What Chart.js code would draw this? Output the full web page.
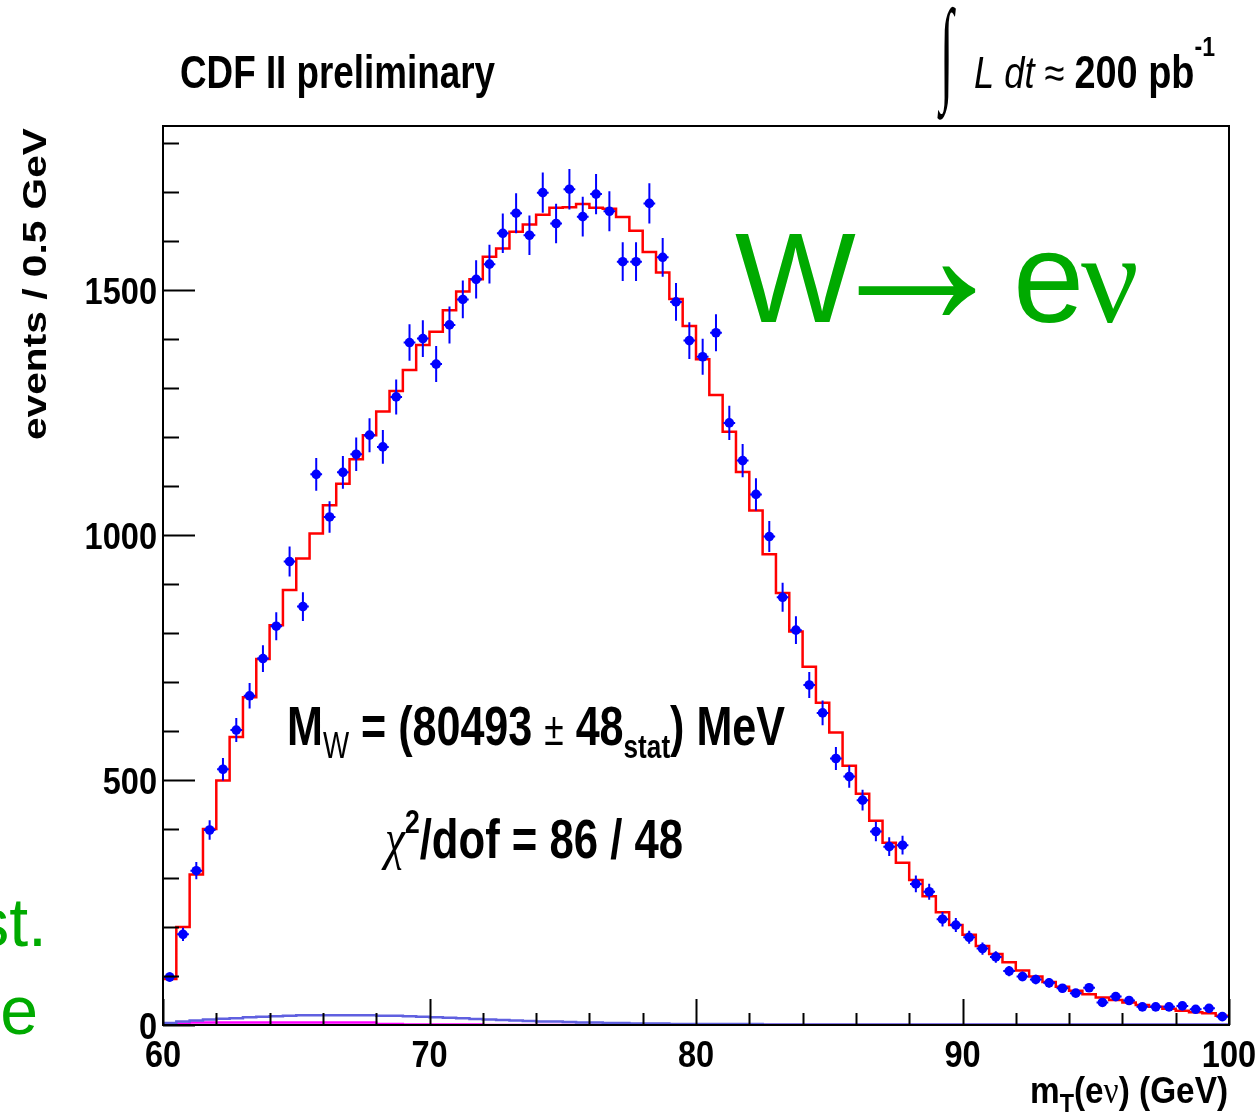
<!DOCTYPE html>
<html>
<head>
<meta charset="utf-8">
<script src="https://cdn.jsdelivr.net/npm/chart.js@4.4.0/dist/chart.umd.min.js"></script>
<style>
html, body { margin: 0; padding: 0; background: #fff; }
canvas { display: block; }
</style>
</head>
<body>
<canvas id="graphCanvas" width="1255" height="1119"></canvas>
<script>
// binning of the m_T histogram (GeV)
var binLow = 60, binWidth = 0.5;

// data: events per 0.5 GeV bin, 60 -> 100 GeV
var dataCounts = [
  98, 185, 315, 398, 522, 602, 672, 748, 814, 946,
  854, 1124, 1037, 1128, 1165, 1204, 1180, 1282, 1393, 1401,
  1349, 1429, 1481, 1522, 1553, 1616, 1657, 1612, 1699, 1636,
  1706, 1650, 1696, 1661, 1558, 1558, 1677, 1567, 1476, 1397,
  1364, 1413, 1229, 1152, 1083, 997, 873, 806, 694, 637,
  544, 507, 459, 395, 364, 367, 288, 272, 216, 204,
  179, 156, 139, 110, 99, 93, 86, 75, 65, 76,
  46, 58, 50, 37, 37, 37, 39, 32, 34, 17
];

// best fit template (red histogram)
var fitCounts = [
  94, 200, 307, 400, 499, 588, 669, 747, 816, 888,
  952, 1003, 1061, 1105, 1155, 1204, 1252, 1294, 1337, 1388,
  1415, 1459, 1497, 1522, 1568, 1585, 1619, 1634, 1654, 1668,
  1669, 1676, 1668, 1666, 1649, 1621, 1578, 1536, 1482, 1427,
  1359, 1286, 1211, 1129, 1050, 961, 882, 803, 731, 658,
  597, 529, 472, 417, 372, 331, 296, 263, 230, 204,
  184, 161, 145, 128, 111, 99, 88, 78, 70, 63,
  56, 51, 46, 41, 37, 33, 29, 26, 24, 19
];

// backgrounds
var bkgBlue = [
  4, 7, 9, 11, 13, 14, 16, 17, 18, 19,
  20, 20, 20, 20, 20, 20, 19, 19, 18, 17,
  16, 15, 14, 12, 11, 10, 9, 8, 7, 7,
  6, 5, 5, 4, 4, 3, 3, 3, 2, 2,
  2, 2, 2, 2, 2, 1, 1, 1, 1, 1,
  1, 1, 1, 1, 1, 1, 1, 1, 1, 1,
  1, 1, 1, 1, 1, 1, 1, 1, 1, 1,
  1, 1, 1, 1, 1, 1, 1, 1, 1, 1
];
var bkgMagenta = [
  1, 3, 5, 5, 5, 5, 5, 5, 5, 5,
  5, 5, 5, 5, 5, 5, 2, 2, 1, 1,
  1, 1, 1, 1, 0, 0, 0, 0, 0, 0,
  0, 0, 0, 0, 0, 0, 0, 0, 0, 0,
  0, 0, 0, 0, 0, 0, 0, 0, 0, 0,
  0, 0, 0, 0, 0, 0, 0, 0, 0, 0,
  0, 0, 0, 0, 0, 0, 0, 0, 0, 0,
  0, 0, 0, 0, 0, 0, 0, 0, 0, 0
];

var xTickLabels = [60, 70, 80, 90, 100];
var xMinorStep = 2;
var yTickLabels = [0, 500, 1000, 1500];
var yMinorStep = 100;
var yMax = 1835;

var SANS = "'Liberation Sans', Arial, Helvetica, sans-serif";
var SERIF = "'Liberation Serif', 'DejaVu Serif', serif";
var GREEN = '#00aa00';

function stepPoints(vals) {
  var pts = [];
  for (var i = 0; i < vals.length; i++) {
    pts.push({x: binLow + i * binWidth, y: vals[i]});
  }
  pts.push({x: binLow + vals.length * binWidth, y: vals[vals.length - 1]});
  return pts;
}

function centerPoints(vals) {
  var pts = [];
  for (var i = 0; i < vals.length; i++) {
    pts.push({x: binLow + (i + 0.5) * binWidth, y: vals[i]});
  }
  return pts;
}

// draws a run of text pieces with their own fonts, squeezed to a target width
function richText(ctx, segs, x, y, align, targetW, color) {
  var w = 0;
  segs.forEach(function (s) { ctx.font = s.f; s.w = ctx.measureText(s.t).width; w += s.w; });
  var sx = targetW ? targetW / w : 1;
  var x0 = x;
  if (align === 'right') x0 = x - w * sx;
  if (align === 'center') x0 = x - w * sx / 2;
  ctx.save();
  ctx.fillStyle = color || '#000';
  ctx.textAlign = 'left';
  ctx.textBaseline = 'alphabetic';
  ctx.translate(x0, y);
  ctx.scale(sx, 1);
  var cx = 0;
  segs.forEach(function (s) {
    ctx.font = s.f;
    ctx.fillText(s.t, cx, s.dy || 0);
    cx += s.w;
  });
  ctx.restore();
}

// glyph stretched into a box
function fitGlyph(ctx, t, font, x1, y1, x2, y2, color) {
  ctx.save();
  ctx.font = font;
  var m = ctx.measureText(t);
  var gw = m.actualBoundingBoxLeft + m.actualBoundingBoxRight;
  var gh = m.actualBoundingBoxAscent + m.actualBoundingBoxDescent;
  ctx.translate(x1, y1);
  ctx.scale((x2 - x1) / gw, (y2 - y1) / gh);
  ctx.fillStyle = color || '#000';
  ctx.textAlign = 'left';
  ctx.textBaseline = 'alphabetic';
  ctx.fillText(t, m.actualBoundingBoxLeft, m.actualBoundingBoxAscent);
  ctx.restore();
}

var cdfDecor = {
  id: 'cdfDecor',
  afterDatasetsDraw: function (chart) {
    var ctx = chart.ctx, xs = chart.scales.x, ys = chart.scales.y;
    ctx.save();
    ctx.strokeStyle = '#0000ff';
    ctx.lineWidth = 2;
    for (var i = 0; i < dataCounts.length; i++) {
      var xc = binLow + (i + 0.5) * binWidth;
      var err = Math.sqrt(dataCounts[i]);
      var px = xs.getPixelForValue(xc);
      var py = ys.getPixelForValue(dataCounts[i]);
      ctx.beginPath();
      ctx.moveTo(px, ys.getPixelForValue(dataCounts[i] - err));
      ctx.lineTo(px, ys.getPixelForValue(dataCounts[i] + err));
      ctx.moveTo(xs.getPixelForValue(xc - 0.22), py);
      ctx.lineTo(xs.getPixelForValue(xc + 0.22), py);
      ctx.stroke();
    }
    ctx.restore();
  },
  afterDraw: function (chart) {
    var ctx = chart.ctx, xs = chart.scales.x, ys = chart.scales.y;
    var a = chart.chartArea;
    ctx.save();
    // frame
    ctx.strokeStyle = '#000';
    ctx.lineWidth = 2;
    ctx.strokeRect(a.left, a.top, a.right - a.left, a.bottom - a.top);
    // y ticks
    for (var v = 0; v <= yMax; v += yMinorStep) {
      var py = Math.round(ys.getPixelForValue(v)) + 0.5;
      var len = (v % 500 === 0) ? 32 : 16;
      ctx.beginPath();
      ctx.moveTo(a.left, py);
      ctx.lineTo(a.left + len, py);
      ctx.stroke();
    }
    // x ticks
    for (var g = xTickLabels[0]; g <= xTickLabels[xTickLabels.length - 1]; g += xMinorStep) {
      var px = Math.round(xs.getPixelForValue(g)) + 0.5;
      var l2 = (g % 10 === 0) ? 26 : 12;
      ctx.beginPath();
      ctx.moveTo(px, a.bottom);
      ctx.lineTo(px, a.bottom - l2);
      ctx.stroke();
    }
    ctx.restore();

    var tickFont = 'bold 37px ' + SANS;
    yTickLabels.forEach(function (v) {
      ctx.font = tickFont;
      var w = ctx.measureText(String(v)).width * 0.88;
      richText(ctx, [{t: String(v), f: tickFont}], 157, ys.getPixelForValue(v) + 14, 'right', w);
    });
    xTickLabels.forEach(function (v) {
      ctx.font = tickFont;
      var w = ctx.measureText(String(v)).width * 0.88;
      richText(ctx, [{t: String(v), f: tickFont}], xs.getPixelForValue(v), 1067, 'center', w);
    });

    // axis titles
    richText(ctx, [
      {t: 'm', f: 'bold 37px ' + SANS},
      {t: 'T', f: 'bold 26px ' + SANS, dy: 9},
      {t: '(e', f: 'bold 37px ' + SANS},
      {t: '\u03bd', f: '37px ' + SERIF},
      {t: ') (GeV)', f: 'bold 37px ' + SANS}
    ], 1228, 1103, 'right', 198);

    ctx.save();
    ctx.translate(46, 440);
    ctx.rotate(-Math.PI / 2);
    richText(ctx, [{t: 'events / 0.5 GeV', f: 'bold 34px ' + SANS}], 0, 0, 'left', 312);
    ctx.restore();

    // header
    richText(ctx, [{t: 'CDF II preliminary', f: 'bold 46px ' + SANS}], 180, 88, 'left', 315);
    fitGlyph(ctx, '\u222b', '100px ' + SERIF, 937, 6, 956, 120);
    richText(ctx, [
      {t: 'L dt ', f: 'italic 44px ' + SANS},
      {t: '\u2248 ', f: '44px ' + SANS},
      {t: '200 pb', f: 'bold 46px ' + SANS},
      {t: '-1', f: 'bold 28px ' + SANS, dy: -32}
    ], 974, 88, 'left', 241);

    // fit result
    richText(ctx, [
      {t: 'M', f: 'bold 56px ' + SANS},
      {t: 'W', f: '36px ' + SANS, dy: 13},
      {t: ' = (80493 ', f: 'bold 56px ' + SANS},
      {t: '\u00b1', f: '46px ' + SANS},
      {t: ' 48', f: 'bold 56px ' + SANS},
      {t: 'stat', f: 'bold 34px ' + SANS, dy: 13},
      {t: ') MeV', f: 'bold 56px ' + SANS}
    ], 287, 745, 'left', 498);
    richText(ctx, [
      {t: '\u03c7', f: 'italic 58px ' + SERIF},
      {t: '2', f: 'bold 34px ' + SANS, dy: -25},
      {t: '/dof = 86 / 48', f: 'bold 56px ' + SANS}
    ], 385, 858, 'left', 298);

    // slide overlay text
    ctx.save();
    ctx.fillStyle = GREEN;
    ctx.textBaseline = 'alphabetic';
    ctx.font = '128px ' + SANS;
    ctx.textAlign = 'left';
    ctx.fillText('W', 735, 322);
    ctx.fillText('e', 1013, 322);
    ctx.font = '128px ' + SERIF;
    ctx.fillText('\u03bd', 1081, 322);
    ctx.font = '68px ' + SANS;
    ctx.textAlign = 'right';
    ctx.fillText('st.', 47, 946);
    ctx.fillText('e', 38, 1034);
    ctx.restore();
    fitGlyph(ctx, '\u2192', 'bold 120px ' + SANS, 858, 266, 976, 316, GREEN);
  }
};

var ctx = document.getElementById('graphCanvas').getContext('2d');

var chart = new Chart(ctx, {
  type: 'scatter',
  data: {
    datasets: [{
      label: 'data',
      data: centerPoints(dataCounts),
      showLine: false,
      pointStyle: 'circle',
      pointRadius: 4.8,
      pointBackgroundColor: '#0000ff',
      pointBorderWidth: 0,
      order: 0
    }, {
      label: 'fit',
      data: stepPoints(fitCounts),
      showLine: true,
      stepped: 'before',
      borderColor: '#ff0000',
      borderWidth: 2.5,
      pointRadius: 0,
      order: 1
    }, {
      label: 'bkg1',
      data: stepPoints(bkgBlue),
      showLine: true,
      stepped: 'before',
      borderColor: '#6060e0',
      borderWidth: 2.5,
      pointRadius: 0,
      order: 2
    }, {
      label: 'bkg2',
      data: stepPoints(bkgMagenta),
      showLine: true,
      stepped: 'before',
      borderColor: '#ff00ff',
      borderWidth: 2.5,
      pointRadius: 0,
      order: 3
    }]
  },
  options: {
    responsive: false,
    animation: false,
    devicePixelRatio: 1,
    layout: { padding: { left: 163, right: 26, top: 126, bottom: 94 } },
    plugins: { legend: { display: false }, tooltip: { enabled: false } },
    scales: {
      x: { type: 'linear', min: 60, max: 100, display: false },
      y: { type: 'linear', min: 0, max: yMax, display: false }
    }
  },
  plugins: [cdfDecor]
});
</script>
</body>
</html>
